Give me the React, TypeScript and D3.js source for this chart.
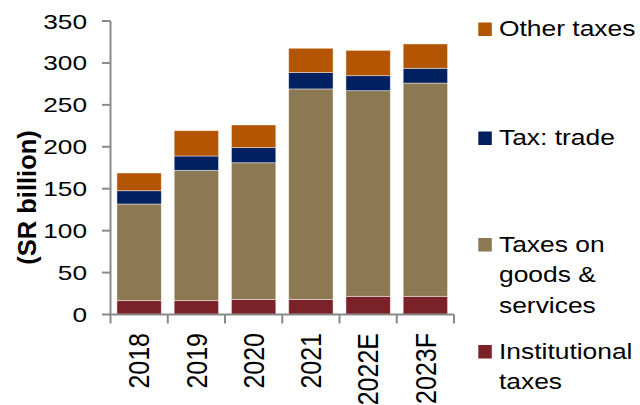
import React from "react";
import * as d3 from "d3";

const categories = ["2018", "2019", "2020", "2021", "2022E", "2023F"];
const institutional = [16.5, 16.5, 18, 18, 21.7, 21.7];
const goodsServices = [115.3, 155.4, 163, 251, 245.2, 254.3];
const trade = [15.8, 17.1, 18, 19.5, 17.9, 17.6];
const other = [21.1, 30.2, 27, 29, 30.2, 29];
const yTicks = [0, 50, 100, 150, 200, 250, 300, 350];
const seriesNames = ["Institutional taxes", "Taxes on goods & services", "Tax: trade", "Other taxes"];
const seriesKeys = ["inst", "goods", "trade", "other"];
const colors = ["#7B2128", "#8C7853", "#002060", "#B35400"];

const legendItems = [
  { key: "other", lines: ["Other taxes"], baseline: 36 },
  { key: "trade", lines: ["Tax: trade"], baseline: 145 },
  { key: "goods", lines: ["Taxes on", "goods &", "services"], baseline: 251.5 },
  { key: "inst", lines: ["Institutional", "taxes"], baseline: 358.5 },
];

export default function App() {
  const W = 640, H = 405;
  const font = "'Liberation Sans', Arial, sans-serif";
  const x = d3.scaleBand<string>().domain(categories).range([110.5, 454]).paddingInner(0.225).paddingOuter(0.1125);
  const y = d3.scaleLinear().domain([0, 350]).range([314.5, 21]);
  const table = categories.map((c, i) => ({
    cat: c,
    inst: institutional[i],
    goods: goodsServices[i],
    trade: trade[i],
    other: other[i],
  }));
  const stack = d3.stack<any>().keys(seriesKeys)(table);
  const colorOf = (k: string) => colors[seriesKeys.indexOf(k)];
  const axisColor = "#898989";
  const step = x.step();
  const boundaries = d3.range(categories.length + 1).map((i) => 110.5 + i * step);

  return (
    <svg width={W} height={H} style={{ position: "absolute", left: 0, top: 0, background: "#fff" }}>
      {stack.map((s, si) => (
        <g key={s.key} fill={colors[si]}>
          {s.map((d, i) => (
            <rect
              key={i}
              x={x(categories[i])}
              width={x.bandwidth()}
              y={y(d[1])}
              height={y(d[0]) - y(d[1])}
              stroke="rgba(255,255,255,0.55)"
              strokeWidth={0.8}
            />
          ))}
        </g>
      ))}
      {/* y axis */}
      <line x1={110.5} x2={110.5} y1={y(350)} y2={y(0)} stroke={axisColor} strokeWidth={2} />
      {yTicks.map((t) => (
        <g key={t}>
          <line x1={102} x2={110.5} y1={y(t)} y2={y(t)} stroke={axisColor} strokeWidth={2} />
          <g transform={`translate(87,${y(t)}) scale(1.25,1)`}>
            <text x={0} y={0} dy="0.36em" textAnchor="end" fontFamily={font} fontSize={21} fill="#000">
              {t}
            </text>
          </g>
        </g>
      ))}
      {/* x axis */}
      <line x1={110.5} x2={454} y1={y(0)} y2={y(0)} stroke={axisColor} strokeWidth={2} />
      {boundaries.map((b, i) => (
        <line key={i} x1={b} x2={b} y1={y(0)} y2={y(0) + 9} stroke={axisColor} strokeWidth={2} />
      ))}
      {categories.map((c) => (
        <g key={c} transform={`translate(${(x(c) as number) + x.bandwidth() / 2},333) rotate(-90) scale(1,1.15)`}>
          <text x={0} y={0} dy="0.36em" textAnchor="end" fontFamily={font} fontSize={25} fill="#000">
            {c}
          </text>
        </g>
      ))}
      {/* y title */}
      <text
        transform="translate(27.5,197.5) rotate(-90)"
        textAnchor="middle"
        dy="0.34em"
        fontFamily={font}
        fontSize={25.5}
        fontWeight="bold"
        fill="#000"
      >
        (SR billion)
      </text>
      {/* legend */}
      {legendItems.map((it) => (
        <g key={it.key}>
          <rect x={478.3} y={it.baseline - 13.5} width={13.5} height={13.5} fill={colorOf(it.key)} />
          {it.lines.map((ln, li) => (
            <g key={li} transform={`translate(499,${it.baseline + li * 30.5}) scale(1.2,1)`}>
              <text x={0} y={0} fontFamily={font} fontSize={22} fill="#000">
                {ln}
              </text>
            </g>
          ))}
        </g>
      ))}
    </svg>
  );
}
